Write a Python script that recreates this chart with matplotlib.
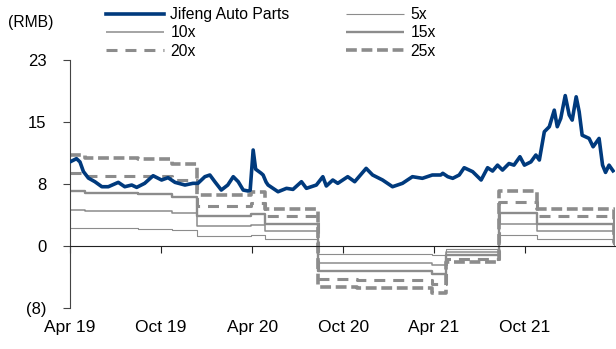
"""
Jifeng Auto Parts share price against historical P/E bands.
Saves the chart as out.png.
"""

import matplotlib
matplotlib.use("Agg")
import matplotlib.pyplot as plt
import matplotlib.dates as mdates
import numpy as np
import pandas as pd


# ---------------------------------------------------------------------------
# Data
# ---------------------------------------------------------------------------

price_dates = [
    "2019-04-01", "2019-04-14", "2019-04-21", "2019-04-28", "2019-05-08",
    "2019-05-21", "2019-06-04", "2019-06-17", "2019-07-07", "2019-07-20",
    "2019-08-03", "2019-08-13", "2019-08-29", "2019-09-15", "2019-10-02",
    "2019-10-15", "2019-10-29", "2019-11-18", "2019-12-04", "2019-12-14",
    "2019-12-28", "2020-01-07", "2020-01-17", "2020-01-30", "2020-02-12",
    "2020-02-23", "2020-03-04", "2020-03-14", "2020-03-24", "2020-03-28",
    "2020-04-03", "2020-04-08", "2020-04-19", "2020-04-23", "2020-04-29",
    "2020-05-03", "2020-05-23", "2020-06-09", "2020-06-22", "2020-07-09",
    "2020-07-19", "2020-08-08", "2020-08-21", "2020-08-28", "2020-09-10",
    "2020-09-20", "2020-10-10", "2020-10-24", "2020-11-16", "2020-11-29",
    "2020-12-19", "2021-01-08", "2021-01-28", "2021-02-17", "2021-03-09",
    "2021-03-29", "2021-04-15", "2021-04-19", "2021-04-29", "2021-05-09",
    "2021-05-22", "2021-06-01", "2021-06-18", "2021-07-05", "2021-07-18",
    "2021-07-28", "2021-08-07", "2021-08-17", "2021-08-30", "2021-09-09",
    "2021-09-21", "2021-09-30", "2021-10-13", "2021-10-23", "2021-10-30",
    "2021-11-09", "2021-11-19", "2021-11-29", "2021-12-05", "2021-12-12",
    "2021-12-21", "2021-12-29", "2022-01-04", "2022-01-12", "2022-01-18",
    "2022-01-24", "2022-02-07", "2022-02-15", "2022-02-27", "2022-03-06",
    "2022-03-12", "2022-03-19", "2022-03-27",
]
price_values = [
    10.4, 10.8, 10.4, 9.2, 8.4,
    7.95, 7.33, 7.33, 7.87, 7.33,
    7.54, 7.25, 7.75, 8.69, 8.16,
    8.45, 7.87, 7.54, 7.75, 7.75,
    8.57, 8.78, 7.95, 6.92, 7.54,
    8.57, 7.95, 6.92, 6.8, 6.9,
    11.87, 9.5, 9.0, 8.78, 7.9,
    7.54, 6.71, 7.13, 7.0, 7.95,
    7.13, 7.54, 8.57, 7.42, 8.16,
    7.75, 8.57, 7.95, 9.6, 8.78,
    8.16, 7.33, 7.75, 8.57, 8.37,
    8.78, 8.78, 8.99, 8.57, 8.37,
    8.78, 9.68, 9.19, 8.16, 9.68,
    9.27, 10.0, 9.39, 10.2, 10.0,
    11.04, 10.0, 10.4, 11.25, 10.63,
    14.13, 14.75, 16.8, 14.75, 15.78,
    18.6, 16.2, 15.57, 18.45, 16.6,
    13.7, 13.3, 12.27, 13.3, 10.0,
    9.1, 10.0, 9.3,
]

# EPS used for the bands, changing at each of these dates
eps_dates = [
    "2019-04-01", "2019-05-01", "2019-08-15", "2019-10-23", "2019-12-12",
    "2020-03-29", "2020-04-26", "2020-08-12", "2020-10-28", "2021-03-29",
    "2021-04-26", "2021-08-10", "2021-10-26", "2022-03-29",
]
eps_values = [
    0.45, 0.435, 0.43, 0.405, 0.25,
    0.265, 0.185, -0.205, -0.21, -0.234,
    -0.078, 0.27, 0.185, 0.02,
]
end_date = "2022-03-31"

band_multiples = [5, 10, 15, 20, 25]
band_labels = ["5x", "10x", "15x", "20x", "25x"]

y_ticks = [-23 / 3, 0, 23 / 3, 46 / 3, 23]
y_tick_labels = ["(8)", "0", "8", "15", "23"]


# ---------------------------------------------------------------------------
# Styles
# ---------------------------------------------------------------------------

PRICE_COLOR = "#003a7d"
BAND_COLOR = "#8c8c8c"
BAND_STYLES = {
    5: dict(lw=0.8),
    10: dict(lw=1.1),
    15: dict(lw=1.7),
    20: dict(lw=2.2, dashes=(3.6, 2.6)),
    25: dict(lw=2.6, dashes=(3.0, 1.3)),
}

plt.rcParams["font.family"] = ["Liberation Sans", "DejaVu Sans"]


def plot_pe_bands() -> None:
    fig = plt.figure(figsize=(6.16, 3.49), dpi=100)
    ax = fig.add_axes([70 / 616, 1 - 308 / 349, 545 / 616, 248 / 349])

    step_dates = pd.to_datetime(eps_dates + [end_date])
    step_eps = np.array(eps_values + [eps_values[-1]])

    handles = {}
    for mult, label in zip(band_multiples, band_labels):
        (line,) = ax.plot(step_dates, mult * step_eps, drawstyle="steps-post",
                          color=BAND_COLOR, label=label, zorder=2,
                          solid_capstyle="butt", **BAND_STYLES[mult])
        handles[label] = line

    (price_line,) = ax.plot(pd.to_datetime(price_dates), price_values,
                            color=PRICE_COLOR, lw=2.6, zorder=3,
                            label="Jifeng Auto Parts")

    ax.set_xlim(pd.Timestamp(eps_dates[0]), pd.Timestamp(end_date))
    ax.set_ylim(y_ticks[0], y_ticks[-1])
    ax.set_yticks(y_ticks)
    ax.set_yticklabels(y_tick_labels)

    ax.xaxis.set_major_locator(mdates.MonthLocator(bymonth=[4, 10]))
    ax.xaxis.set_major_formatter(mdates.DateFormatter("%b %y"))

    for side in ("top", "right"):
        ax.spines[side].set_visible(False)
    ax.spines["bottom"].set_position(("data", 0))
    ax.spines["bottom"].set_color("#222222")
    ax.spines["left"].set_color("#444444")

    ax.tick_params(axis="y", direction="out", length=5, pad=12,
                   labelsize=12, color="#444444")
    ax.tick_params(axis="x", direction="out", length=5, pad=48,
                   labelsize=12.5, color="#222222")

    fig.text(8 / 616, 1 - 22 / 349, "(RMB)", fontsize=11.3, va="center")

    order = ["Jifeng Auto Parts", "10x", "20x", "5x", "15x", "25x"]
    handles["Jifeng Auto Parts"] = price_line
    fig.legend([handles[k] for k in order], order, ncol=2,
               loc="upper left", bbox_to_anchor=(106 / 616, 1 - 7 / 349),
               frameon=False, fontsize=11.3, handlelength=3.7,
               handletextpad=0.4, columnspacing=3.6, labelspacing=0.22,
               borderpad=0, borderaxespad=0)

    fig.savefig("out.png", dpi=100)
    plt.close(fig)


if __name__ == "__main__":
    plot_pe_bands()
